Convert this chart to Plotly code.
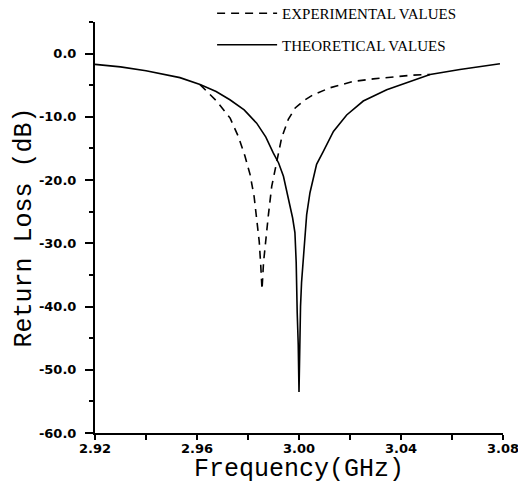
import plotly.graph_objects as go

# Theoretical values (solid)
theo_freq = [2.9200, 2.9300, 2.9400, 2.9500, 2.9533, 2.9612, 2.9675, 2.9729, 2.9785,
             2.9834, 2.9870, 2.9899, 2.9920, 2.9939, 2.9965, 2.9975, 2.9984, 2.9989,
             2.9993, 2.9997, 3.0000,
             3.0002, 3.0006, 3.0010, 3.0020, 3.0030, 3.0043, 3.0069, 3.0095, 3.0135,
             3.0187, 3.0252, 3.0344, 3.0422, 3.0514, 3.0631, 3.0788]
theo_db = [-1.7, -2.1, -2.7, -3.5, -3.8, -4.9, -6.0, -7.3, -8.9,
           -11.0, -13.2, -15.7, -17.3, -19.4, -24.2, -26.0, -28.3, -33.0,
           -41.0, -46.0, -53.5,
           -46.0, -40.0, -36.2, -30.5, -25.5, -22.0, -17.5, -15.5, -12.3,
           -9.7, -7.5, -5.7, -4.6, -3.3, -2.5, -1.6]

# Experimental values (dashed)
exp_freq = [2.9612, 2.9677, 2.9730, 2.9762, 2.9788, 2.9808, 2.9824, 2.9834, 2.9844,
            2.9850, 2.9855, 2.9861, 2.9868, 2.9880, 2.9893, 2.9917, 2.9932, 2.9958,
            2.9985, 3.0020, 3.0056, 3.0122, 3.0213, 3.0291, 3.0370, 3.0448, 3.0514]
exp_db = [-4.9, -7.5, -10.2, -13.1, -16.2, -19.1, -22.6, -25.7, -29.7,
          -33.5, -37.3, -33.0, -30.0, -25.5, -21.0, -16.2, -13.3, -10.4,
          -8.6, -7.4, -6.5, -5.4, -4.4, -4.0, -3.7, -3.4, -3.3]

x_tickvals = [2.92, 2.96, 3.00, 3.04, 3.08]
x_ticktext = ["2.92", "2.96", "3.00", "3.04", "3.08"]
y_tickvals = [0, -10, -20, -30, -40, -50, -60]
y_ticktext = ["0.0", "-10.0", "-20.0", "-30.0", "-40.0", "-50.0", "-60.0"]

tick_font = dict(family="DejaVu Sans", size=13, color="black", weight="bold")
title_font = dict(family="Liberation Mono", size=25, color="black")

fig = go.Figure()
fig.add_trace(go.Scatter(
    x=exp_freq, y=exp_db, mode="lines", name="EXPERIMENTAL VALUES",
    legendgroup="a",
    line=dict(color="black", width=1.6, dash="8px,6px"),
))
fig.add_trace(go.Scatter(
    x=theo_freq, y=theo_db, mode="lines", name="THEORETICAL VALUES",
    legendgroup="b",
    line=dict(color="black", width=1.6),
))

fig.update_layout(
    width=518, height=484,
    margin=dict(l=95, r=15, t=22, b=51, autoexpand=False),
    paper_bgcolor="white", plot_bgcolor="white",
    showlegend=True,
    legend=dict(
        x=0.287, y=1.061, xanchor="left", yanchor="top",
        font=dict(family="Liberation Serif", size=15, color="black"),
        itemwidth=60, tracegroupgap=9, bgcolor="rgba(0,0,0,0)",
    ),
    xaxis=dict(
        range=[2.92, 3.08], showgrid=False, zeroline=False, automargin=False,
        showline=True, linecolor="black", linewidth=2,
        ticks="outside", ticklen=5, tickwidth=2, tickcolor="black",
        tickvals=x_tickvals, ticktext=x_ticktext, tickfont=tick_font,
        ticklabelstandoff=-3, ticklabeloverflow="allow",
        minor=dict(dtick=0.02, ticks="outside", ticklen=5, tickwidth=2, tickcolor="black", showgrid=False),
        title=dict(text="Frequency(GHz)", standoff=0, font=title_font),
    ),
    yaxis=dict(
        range=[-60, 5], showgrid=False, zeroline=False, automargin=False,
        showline=True, linecolor="black", linewidth=2,
        ticks="outside", ticklen=8, tickwidth=2, tickcolor="black",
        tickvals=y_tickvals, ticktext=y_ticktext, tickfont=tick_font,
        ticklabelstandoff=6,
        minor=dict(dtick=5, ticks="outside", ticklen=4, tickwidth=2, tickcolor="black", showgrid=False),
        title=dict(text="Return Loss (dB)", standoff=0, font=title_font),
    ),
)

fig.write_html(
    "out.html",
    config={"displayModeBar": False},
    post_script="document.body.style.margin='0';document.documentElement.style.overflow='hidden';",
)
